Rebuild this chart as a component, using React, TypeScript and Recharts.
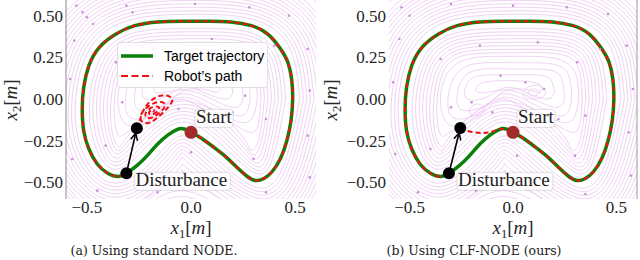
import React from 'react';
import { ComposedChart, Line, XAxis, YAxis, Legend, Label, ReferenceLine } from 'recharts';

type Pt = { x: number; y: number };
const pts = (a: number[][]): Pt[] => a.map(([x, y]) => ({ x, y }));

const xTicks = [-0.5, 0, 0.5];
const yTicks = [-0.5, -0.25, 0, 0.25, 0.5];

// target trajectory, starting at "Start" and going round counter-clockwise
const targetTrajectory = pts([
  [0.0, -0.2], [0.05, -0.235], [0.11, -0.29], [0.17, -0.35], [0.22, -0.41], [0.27, -0.465],
  [0.31, -0.489], [0.35, -0.477], [0.39, -0.435], [0.43, -0.355], [0.46, -0.25], [0.48, -0.13],
  [0.488, 0.0], [0.483, 0.12], [0.465, 0.22], [0.43, 0.3], [0.37, 0.388], [0.29, 0.44],
  [0.19, 0.462], [0.08, 0.466], [-0.04, 0.466], [-0.16, 0.462], [-0.27, 0.44], [-0.36, 0.39],
  [-0.44, 0.31], [-0.49, 0.2], [-0.515, 0.07], [-0.522, -0.06], [-0.515, -0.19], [-0.49, -0.3],
  [-0.45, -0.39], [-0.4, -0.445], [-0.35, -0.465], [-0.31, -0.446], [-0.26, -0.4], [-0.21, -0.34],
  [-0.16, -0.27], [-0.11, -0.215], [-0.07, -0.185], [-0.04, -0.178], [-0.015, -0.188], [0.0, -0.2],
]);
// robot follows the target from Start until the disturbance
const robotBeforeKick = targetTrajectory.slice(0, 34);
const startPoint = [{ x: 0.0, y: -0.2 }];
const disturbancePoint = [{ x: -0.31, y: -0.446 }];
const kickTipA = [{ x: -0.26, y: -0.176 }];
const kickTipB = [{ x: -0.255, y: -0.174 }];

// standard NODE: robot spirals into a spurious attractor
const robotAfterKickA = pts([
  [-0.26, -0.176], [-0.245, -0.125], [-0.225, -0.06], [-0.19, -0.008], [-0.145, 0.02], [-0.105, 0.016],
  [-0.09, -0.01], [-0.11, -0.05], [-0.15, -0.1], [-0.195, -0.14], [-0.232, -0.14], [-0.242, -0.105],
  [-0.222, -0.062], [-0.182, -0.028], [-0.142, -0.018], [-0.125, -0.038], [-0.145, -0.076], [-0.185, -0.11],
  [-0.215, -0.11], [-0.216, -0.08], [-0.19, -0.052], [-0.16, -0.046], [-0.155, -0.066], [-0.18, -0.09],
  [-0.2, -0.09], [-0.195, -0.07], [-0.178, -0.065], [-0.182, -0.078],
]);
// CLF-NODE: robot returns to the target
const robotAfterKickB = pts([
  [-0.255, -0.174], [-0.21, -0.195], [-0.15, -0.204], [-0.1, -0.195], [-0.063, -0.18], [-0.03, -0.183], [0.0, -0.2],
]);

// streamlines of the learned vector field (outside the trajectory)
const outerStreams = [
  [[0.522, 0], [0.479, 0.291], [0.315, 0.472], [0, 0.508], [-0.315, 0.467], [-0.499, 0.271], [-0.556, -0.06], [-0.509, -0.351], [-0.36, -0.505], [-0.176, -0.36], [-0.05, -0.222], [0.096, -0.33], [0.31, -0.529], [0.444, -0.4], [0.522, 0]],
  [[0.539, 0], [0.494, 0.302], [0.323, 0.491], [0, 0.529], [-0.323, 0.486], [-0.514, 0.282], [-0.573, -0.06], [-0.524, -0.362], [-0.36, -0.526], [-0.164, -0.375], [-0.05, -0.243], [0.084, -0.345], [0.31, -0.55], [0.456, -0.415], [0.539, 0]],
  [[0.556, 0], [0.508, 0.312], [0.33, 0.509], [0, 0.55], [-0.33, 0.504], [-0.528, 0.292], [-0.59, -0.06], [-0.538, -0.372], [-0.36, -0.547], [-0.152, -0.39], [-0.05, -0.264], [0.072, -0.36], [0.31, -0.571], [0.468, -0.43], [0.556, 0]],
  [[0.573, 0], [0.523, 0.323], [0.338, 0.528], [0, 0.571], [-0.338, 0.523], [-0.543, 0.303], [-0.607, -0.06], [-0.553, -0.383], [-0.36, -0.568], [-0.14, -0.405], [-0.05, -0.285], [0.06, -0.375], [0.31, -0.592], [0.48, -0.445], [0.573, 0]],
  [[0.59, 0], [0.537, 0.333], [0.345, 0.546], [0, 0.592], [-0.345, 0.541], [-0.557, 0.313], [-0.624, -0.06], [-0.567, -0.393], [-0.36, -0.589], [-0.128, -0.42], [-0.05, -0.306], [0.048, -0.39], [0.31, -0.613], [0.492, -0.46], [0.59, 0]],
  [[0.607, 0], [0.552, 0.344], [0.353, 0.565], [0, 0.613], [-0.353, 0.56], [-0.572, 0.324], [-0.641, -0.06], [-0.582, -0.404], [-0.36, -0.61], [-0.119, -0.435], [-0.048, -0.328], [0.034, -0.405], [0.31, -0.634], [0.504, -0.475], [0.607, 0]],
  [[0.624, 0], [0.566, 0.354], [0.36, 0.583], [0, 0.634], [-0.36, 0.578], [-0.586, 0.334], [-0.658, -0.06], [-0.596, -0.414], [-0.36, -0.631], [-0.11, -0.45], [-0.045, -0.35], [0.02, -0.42], [0.31, -0.655], [0.516, -0.49], [0.624, 0]],
  [[0.641, 0], [0.581, 0.365], [0.368, 0.602], [0, 0.655], [-0.368, 0.597], [-0.6, 0.345], [-0.675, -0.06], [-0.61, -0.425], [-0.36, -0.652], [-0.1, -0.47], [-0.042, -0.39], [0.01, -0.445], [0.31, -0.676], [0.528, -0.505], [0.641, 0]],
  [[0.658, 0], [0.595, 0.375], [0.375, 0.62], [0, 0.676], [-0.375, 0.615], [-0.615, 0.355], [-0.692, -0.06], [-0.625, -0.435], [-0.36, -0.673], [-0.09, -0.49], [-0.04, -0.43], [0.0, -0.47], [0.31, -0.697], [0.54, -0.52], [0.658, 0]],
  [[0.675, 0], [0.61, 0.386], [0.383, 0.638], [0, 0.697], [-0.383, 0.633], [-0.63, 0.366], [-0.709, -0.06], [-0.64, -0.446], [-0.36, -0.694], [-0.05, -0.5], [0.31, -0.718], [0.552, -0.535], [0.675, 0]],
  [[0.692, 0], [0.624, 0.396], [0.39, 0.657], [0, 0.718], [-0.39, 0.652], [-0.644, 0.376], [-0.726, -0.06], [-0.654, -0.456], [-0.36, -0.715], [-0.05, -0.55], [0.31, -0.739], [0.564, -0.55], [0.692, 0]],
  [[0.709, 0], [0.638, 0.406], [0.398, 0.675], [0, 0.739], [-0.398, 0.67], [-0.658, 0.386], [-0.743, -0.06], [-0.668, -0.466], [-0.36, -0.736], [-0.05, -0.585], [0.31, -0.76], [0.576, -0.565], [0.709, 0]],
  [[0.726, 0], [0.653, 0.417], [0.405, 0.694], [0, 0.76], [-0.405, 0.689], [-0.673, 0.397], [-0.76, -0.06], [-0.683, -0.477], [-0.36, -0.757], [-0.05, -0.62], [0.31, -0.781], [0.588, -0.58], [0.726, 0]],
  [[0.76, 0], [0.682, 0.438], [0.42, 0.731], [0, 0.8], [-0.42, 0.726], [-0.702, 0.418], [-0.794, -0.06], [-0.712, -0.498], [-0.36, -0.8], [-0.05, -0.68], [0.31, -0.82], [0.612, -0.61], [0.76, 0]],
].map(pts);

// streamlines inside the trajectory
const innerStreams = [
  [[0.454, 0], [0.421, 0.249], [0.285, 0.398], [0, 0.424], [-0.285, 0.393], [-0.441, 0.229], [-0.488, -0.06], [-0.451, -0.309], [-0.36, -0.421], [-0.224, -0.3], [-0.05, -0.138], [0.144, -0.27], [0.31, -0.445], [0.396, -0.34], [0.454, 0]],
  [[0.437, 0], [0.406, 0.238], [0.278, 0.38], [0, 0.403], [-0.278, 0.374], [-0.426, 0.218], [-0.471, -0.06], [-0.436, -0.298], [-0.36, -0.4], [-0.236, -0.285], [-0.05, -0.117], [0.156, -0.255], [0.31, -0.424], [0.384, -0.325], [0.437, 0]],
  [[0.42, 0], [0.392, 0.228], [0.27, 0.361], [0, 0.382], [-0.27, 0.356], [-0.412, 0.208], [-0.454, -0.06], [-0.422, -0.288], [-0.36, -0.379], [-0.248, -0.27], [-0.05, -0.096], [0.168, -0.24], [0.31, -0.403], [0.372, -0.31], [0.42, 0]],
  [[0.403, 0], [0.377, 0.217], [0.262, 0.342], [0, 0.361], [-0.262, 0.337], [-0.397, 0.197], [-0.437, -0.06], [-0.407, -0.277], [-0.355, -0.355], [-0.26, -0.255], [-0.05, -0.075], [0.18, -0.225], [0.305, -0.38], [0.36, -0.295], [0.403, 0]],
  [[0.386, 0], [0.363, 0.207], [0.255, 0.324], [0, 0.34], [-0.255, 0.319], [-0.383, 0.187], [-0.42, -0.06], [-0.393, -0.267], [-0.35, -0.33], [-0.272, -0.24], [-0.05, -0.054], [0.192, -0.21], [0.3, -0.355], [0.348, -0.28], [0.386, 0]],
  [[0.369, 0], [0.348, 0.196], [0.248, 0.305], [0, 0.319], [-0.248, 0.3], [-0.368, 0.176], [-0.403, -0.06], [-0.38, -0.254], [-0.345, -0.31], [-0.284, -0.225], [-0.05, -0.033], [0.204, -0.195], [0.292, -0.33], [0.336, -0.265], [0.369, 0]],
  [[0.352, 0], [0.334, 0.186], [0.24, 0.287], [0, 0.298], [-0.24, 0.282], [-0.354, 0.166], [-0.386, -0.06], [-0.37, -0.24], [-0.34, -0.29], [-0.296, -0.21], [-0.05, -0.012], [0.216, -0.18], [0.285, -0.305], [0.324, -0.25], [0.352, 0]],
  [[0.335, 0], [0.32, 0.175], [0.232, 0.268], [0, 0.277], [-0.232, 0.263], [-0.34, 0.155], [-0.369, -0.06], [-0.35, -0.215], [-0.293, -0.19], [-0.15, -0.09], [-0.05, 0.0], [0.1, -0.09], [0.223, -0.165], [0.31, -0.19], [0.335, 0]],
  [[0.318, 0], [0.3, 0.16], [0.2, 0.245], [0, 0.256], [-0.2, 0.245], [-0.32, 0.15], [-0.35, -0.04], [-0.3, -0.16], [-0.2, -0.1], [-0.05, 0.01], [0.1, -0.06], [0.24, -0.14], [0.3, -0.1], [0.318, 0]],
  [[0.284, 0], [0.27, 0.14], [0.19, 0.21], [0, 0.218], [-0.19, 0.21], [-0.29, 0.12], [-0.315, -0.04], [-0.27, -0.12], [-0.15, -0.07], [-0.05, 0.03], [0.1, -0.03], [0.22, -0.1], [0.27, -0.07], [0.284, 0]],
  [[0.25, 0.01], [0.235, 0.12], [0.17, 0.175], [0, 0.18], [-0.17, 0.175], [-0.255, 0.1], [-0.27, -0.02], [-0.23, -0.07], [-0.12, -0.03], [-0.03, 0.05], [0.1, 0.0], [0.2, -0.05], [0.24, -0.03], [0.25, 0.01]],
  [[0.2, 0.04], [0.18, 0.12], [0.1, 0.145], [-0.05, 0.145], [-0.18, 0.135], [-0.23, 0.07], [-0.22, 0.0], [-0.13, 0.01], [-0.03, 0.07], [0.08, 0.03], [0.17, 0.0], [0.2, 0.04]],
  [[0.14, 0.06], [0.1, 0.1], [-0.05, 0.11], [-0.16, 0.09], [-0.17, 0.04], [-0.08, 0.05], [0.05, 0.06], [0.12, 0.04], [0.14, 0.06]],
].map(pts);

// CLF-NODE field has a small spiral and a loop near the centre
const extraStreamsB = [
  [[0.16, 0.04], [0.13, 0.08], [0.07, 0.07], [0.05, 0.02], [0.09, 0.0], [0.14, 0.01], [0.16, 0.04]],
  [[0.13, 0.04], [0.11, 0.06], [0.08, 0.05], [0.08, 0.025], [0.11, 0.02], [0.13, 0.04]],
  [[-0.14, -0.06], [-0.17, -0.03], [-0.21, -0.06], [-0.19, -0.1], [-0.15, -0.09], [-0.14, -0.06]],
].map(pts);

const flowArrowsA = pts([
  [-0.55, 0.56], [-0.52, 0.52], [-0.5, 0.49], [-0.47, 0.45], [-0.31, 0.56], [-0.28, 0.52], [0.02, 0.57], [0.28, 0.55],
  [0.47, 0.5], [0.56, 0.3], [0.57, 0.05], [0.56, -0.22], [0.57, -0.47], [0.36, -0.56], [0.1, -0.5], [-0.16, -0.56],
  [-0.45, -0.55], [-0.57, -0.36], [-0.58, 0.12], [-0.56, 0.35], [-0.36, 0.22], [-0.18, 0.3], [0.1, 0.36], [0.32, 0.2],
  [0.36, -0.12], [0.2, -0.08], [0.16, 0.12], [-0.04, 0.16], [-0.33, -0.02], [-0.41, -0.28], [0.3, -0.36], [-0.06, -0.06],
  [0.26, 0.02], [0.0, -0.32], [-0.22, -0.45], [0.4, 0.32],
]);
const flowArrowsB = pts([
  [-0.54, 0.55], [-0.5, 0.5], [-0.3, 0.57], [0.0, 0.56], [0.26, 0.55], [0.46, 0.51], [0.55, 0.32], [0.58, 0.06],
  [0.56, -0.2], [0.57, -0.46], [0.35, -0.57], [0.08, -0.52], [-0.18, -0.55], [-0.46, -0.56], [-0.57, -0.33], [-0.58, 0.1],
  [-0.55, 0.36], [-0.35, 0.24], [-0.16, 0.32], [0.12, 0.34], [0.31, 0.22], [0.35, -0.1], [0.22, -0.12], [0.15, 0.06],
  [0.06, 0.1], [-0.06, 0.14], [-0.3, -0.05], [-0.2, -0.02], [-0.4, -0.3], [0.3, -0.34], [-0.1, -0.08], [0.02, -0.34],
  [-0.2, -0.46], [0.42, 0.3],
]);

const SERIF = 'Liberation Serif, Times New Roman, serif';
const SANS = 'Liberation Sans, Arial, sans-serif';
const STREAM = '#e9c3ef';
const GREEN = '#0a800a';
const RED = '#f01010';

const fmt = (v: number, d: number) => (v < 0 ? '\u2212' : '') + Math.abs(v).toFixed(d);

const XTick = (p: any) => (
  <text x={p.x} y={p.y + 14} textAnchor="middle" style={{ fontFamily: SERIF, fontSize: 17 }} fill="#262626">
    {fmt(p.payload.value, 1)}
  </text>
);
const YTick = (p: any) => (
  <text x={p.x - 3} y={p.y + 6} textAnchor="end" style={{ fontFamily: SERIF, fontSize: 17 }} fill="#262626">
    {fmt(p.payload.value, 2)}
  </text>
);

const mathLabel = (sub: string) => [
  <tspan key="v" fontStyle="italic">x</tspan>,
  <tspan key="s" fontSize={12.5} dy={4}>{sub}</tspan>,
  <tspan key="o" dy={-4}>[</tspan>,
  <tspan key="m" fontStyle="italic">m</tspan>,
  <tspan key="c">]</tspan>,
];

const labelBox = (x: number, y: number, w: number, text: string) => (
  <g>
    <rect x={x} y={y} width={w} height={18} rx={3} fill="rgba(255,255,255,0.78)" stroke="rgba(0,0,0,0.12)" />
    <text x={x + 1} y={y + 14} style={{ fontFamily: SERIF, fontSize: 19 }} fill="#222">{text}</text>
  </g>
);

const StartDot = (p: any) => (
  <g key={`start-${p.index}`}>
    <circle cx={p.cx} cy={p.cy} r={6.5} fill="#a52a2a" />
    {labelBox(p.cx + 4, p.cy - 23, 38, 'Start')}
  </g>
);
const DisturbanceDot = (p: any) => (
  <g key={`dist-${p.index}`}>
    <circle cx={p.cx} cy={p.cy} r={6} fill="#000" />
    {labelBox(p.cx + 8, p.cy - 1, 96, 'Disturbance')}
  </g>
);
const BlackDot = (p: any) => <circle key={`tip-${p.index}`} cx={p.cx} cy={p.cy} r={6} fill="#000" />;
const FlowArrow = (p: any) => <circle key={`fa-${p.index}`} cx={p.cx} cy={p.cy} r={1.3} fill="#cc90d8" />;

const ArrowHead = (p: any) => {
  if (p.index !== 1 || !p.points || p.points.length < 2) return <g key={`ah-${p.index}`} />;
  const [a, b] = p.points;
  const dx = b.x - a.x;
  const dy = b.y - a.y;
  const len = Math.hypot(dx, dy) || 1;
  const ux = dx / len;
  const uy = dy / len;
  const ax = b.x - ux * 5;
  const ay = b.y - uy * 5;
  const bx = ax - ux * 7;
  const by = ay - uy * 7;
  return (
    <polyline
      key={`ah-${p.index}`}
      points={`${bx - uy * 3.5},${by + ux * 3.5} ${ax},${ay} ${bx + uy * 3.5},${by - ux * 3.5}`}
      fill="none"
      stroke="#000"
      strokeWidth={1.5}
    />
  );
};

const LegendBox = () => (
  <div
    style={{
      width: 151, height: 46, boxSizing: 'border-box', background: 'rgba(255,255,255,0.85)',
      border: '1px solid rgba(0,0,0,0.12)', borderRadius: 4, position: 'relative',
    }}
  >
    <svg width={151} height={46} style={{ position: 'absolute', left: 0, top: 0 }}>
      <line x1={3} x2={35} y1={13} y2={13} stroke={GREEN} strokeWidth={3.5} />
      <line x1={3} x2={35} y1={33} y2={33} stroke={RED} strokeWidth={2} strokeDasharray="7 3.5" />
      <text x={46} y={18} style={{ fontFamily: SANS, fontSize: 14 }} fill="#000">Target trajectory</text>
      <text x={46} y={38} style={{ fontFamily: SANS, fontSize: 14 }} fill="#000">Robot’s path</text>
    </svg>
  </div>
);

interface PanelProps {
  variant: 'a' | 'b';
}

const Panel = ({ variant }: PanelProps) => {
  const isA = variant === 'a';
  const marginLeft = isA ? 6 : 9;
  const plotLeft = marginLeft + 60;
  const plotWidth = isA ? 250 : 248;
  const tip = isA ? kickTipA : kickTipB;
  const streams = isA ? [...outerStreams, ...innerStreams] : [...outerStreams, ...innerStreams, ...extraStreamsB];

  return (
    <ComposedChart
      width={320}
      height={246}
      margin={{ top: 0, right: 320 - plotLeft - plotWidth, bottom: 6, left: marginLeft }}
    >
      <XAxis
        type="number"
        dataKey="x"
        domain={[-0.6, 0.6]}
        allowDataOverflow
        ticks={xTicks}
        interval={0}
        tick={XTick}
        tickLine={false}
        axisLine={false}
        tickSize={0}
        tickMargin={0}
        height={40}
      >
        <Label
          content={() => (
            <text x={plotLeft + plotWidth / 2} y={235} textAnchor="middle" style={{ fontFamily: SERIF, fontSize: 19 }} fill="#262626">
              {mathLabel('1')}
            </text>
          )}
        />
      </XAxis>
      <YAxis
        type="number"
        dataKey="y"
        domain={[-0.6, 0.6]}
        allowDataOverflow
        ticks={yTicks}
        interval={0}
        tick={YTick}
        tickLine={false}
        axisLine={isA ? { stroke: '#8a8a8a' } : false}
        tickSize={0}
        tickMargin={0}
        width={60}
      >
        <Label
          content={() => (
            <text
              x={17}
              y={101}
              transform="rotate(-90 17 101)"
              textAnchor="middle"
              style={{ fontFamily: SERIF, fontSize: 19 }}
              fill="#262626"
            >
              {mathLabel('2')}
            </text>
          )}
        />
      </YAxis>

      {streams.map((s, i) => (
        <Line
          key={`stream-${i}`}
          data={s}
          dataKey="y"
          type="natural"
          stroke={STREAM}
          strokeWidth={0.75}
          dot={false}
          activeDot={false}
          isAnimationActive={false}
        />
      ))}
      <Line
        data={isA ? flowArrowsA : flowArrowsB}
        dataKey="y"
        stroke="none"
        dot={FlowArrow}
        activeDot={false}
        isAnimationActive={false}
      />

      <Line data={targetTrajectory} dataKey="y" type="natural" stroke={GREEN} strokeWidth={3.5} dot={false} activeDot={false} isAnimationActive={false} />
      <Line data={robotBeforeKick} dataKey="y" type="natural" stroke={RED} strokeWidth={2} strokeDasharray="5 3" dot={false} activeDot={false} isAnimationActive={false} />
      <Line
        data={isA ? robotAfterKickA : robotAfterKickB}
        dataKey="y"
        type="natural"
        stroke={RED}
        strokeWidth={2}
        strokeDasharray="5 3"
        dot={false}
        activeDot={false}
        isAnimationActive={false}
      />

      <Line
        data={[...disturbancePoint, ...tip]}
        dataKey="y"
        type="linear"
        stroke="#000"
        strokeWidth={1.6}
        dot={ArrowHead}
        activeDot={false}
        isAnimationActive={false}
      />
      <Line data={tip} dataKey="y" stroke="none" dot={BlackDot} activeDot={false} isAnimationActive={false} />
      <Line data={disturbancePoint} dataKey="y" stroke="none" dot={DisturbanceDot} activeDot={false} isAnimationActive={false} />
      <Line data={startPoint} dataKey="y" stroke="none" dot={StartDot} activeDot={false} isAnimationActive={false} />

      {!isA && <ReferenceLine x={0.6} stroke="#9a9a9a" strokeWidth={1} />}
      {isA && (
        <Legend
          layout="vertical"
          align="center"
          verticalAlign="middle"
          content={LegendBox}
          wrapperStyle={{ left: 117, top: 43, width: 151, height: 46 }}
        />
      )}
    </ComposedChart>
  );
};

const captionStyle: React.CSSProperties = {
  position: 'absolute',
  top: 244,
  width: 240,
  textAlign: 'center',
  fontFamily: '"DejaVu Serif", serif',
  fontSize: 12.5,
  lineHeight: '14px',
  color: '#222',
  whiteSpace: 'nowrap',
};

export default function App() {
  return (
    <div style={{ position: 'absolute', left: 0, top: 0, width: 640, height: 260, background: '#fff', overflow: 'hidden' }}>
      <div style={{ position: 'absolute', left: 0, top: -1 }}>
        <Panel variant="a" />
      </div>
      <div style={{ position: 'absolute', left: 320, top: -1 }}>
        <Panel variant="b" />
      </div>
      <div style={{ ...captionStyle, left: 34 }}>(a) Using standard NODE.</div>
      <div style={{ ...captionStyle, left: 354 }}>(b) Using CLF-NODE (ours)</div>
    </div>
  );
}
